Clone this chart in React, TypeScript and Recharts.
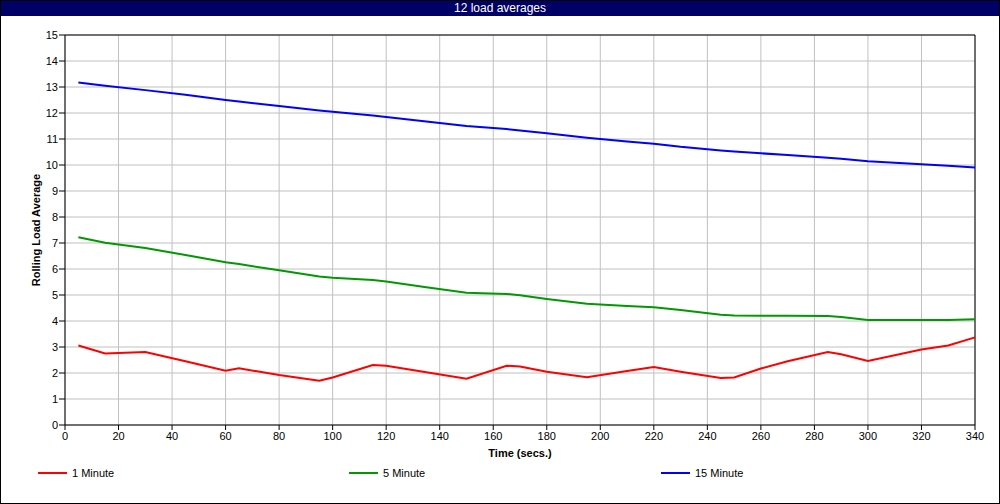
import React from "react";
import {
  LineChart,
  Line,
  XAxis,
  YAxis,
  CartesianGrid,
  Legend,
  ReferenceLine,
} from "recharts";

const times = [5, 15, 30, 45, 60, 65, 80, 95, 100, 115, 120, 135, 150, 165, 170, 180, 195, 210, 220, 230, 245, 250, 260, 270, 285, 290, 300, 320, 330, 340];
const oneMinute = [3.06, 2.75, 2.81, 2.45, 2.09, 2.18, 1.92, 1.7, 1.83, 2.31, 2.28, 2.03, 1.78, 2.28, 2.25, 2.05, 1.84, 2.08, 2.23, 2.05, 1.81, 1.83, 2.17, 2.45, 2.81, 2.72, 2.46, 2.9, 3.06, 3.37];
const fiveMinute = [7.22, 7.01, 6.81, 6.54, 6.26, 6.19, 5.95, 5.71, 5.66, 5.58, 5.52, 5.3, 5.09, 5.04, 4.99, 4.85, 4.66, 4.58, 4.53, 4.42, 4.24, 4.21, 4.2, 4.2, 4.19, 4.15, 4.04, 4.04, 4.04, 4.07];
const fifteenMinute = [13.17, 13.05, 12.88, 12.7, 12.5, 12.44, 12.27, 12.1, 12.05, 11.9, 11.85, 11.67, 11.5, 11.38, 11.33, 11.22, 11.05, 10.9, 10.82, 10.7, 10.56, 10.52, 10.45, 10.38, 10.28, 10.24, 10.14, 10.03, 9.97, 9.9];
const xTicks = [0, 20, 40, 60, 80, 100, 120, 140, 160, 180, 200, 220, 240, 260, 280, 300, 320, 340];
const yTicks = [0, 1, 2, 3, 4, 5, 6, 7, 8, 9, 10, 11, 12, 13, 14, 15];
const seriesNames = ["1 Minute", "5 Minute", "15 Minute"];

const data = times.map((t, i) => ({
  t,
  one: oneMinute[i],
  five: fiveMinute[i],
  fifteen: fifteenMinute[i],
}));

const FONT = "'Liberation Sans', Arial, sans-serif";
const legendLefts = [38, 349, 661];

const renderLegend = (props: any) => {
  const payload = [...(props.payload || [])].sort(
    (a: any, b: any) => seriesNames.indexOf(a.value) - seriesNames.indexOf(b.value)
  );
  return (
    <div style={{ position: "relative", width: 1000, height: 20 }}>
      {payload.map((p: any, i: number) => (
        <div
          key={i}
          style={{
            position: "absolute",
            left: legendLefts[i],
            top: 0,
            height: 20,
            display: "flex",
            alignItems: "center",
            fontFamily: FONT,
            fontSize: 11,
            color: "#000",
          }}
        >
          <div style={{ width: 29, height: 2, background: p.color, marginRight: 5 }} />
          <span>{p.value}</span>
        </div>
      ))}
    </div>
  );
};

export default function App() {
  return (
    <div
      style={{
        position: "absolute",
        left: 0,
        top: 0,
        width: 1000,
        height: 504,
        background: "#fff",
        boxSizing: "border-box",
        border: "1px solid #000",
        overflow: "hidden",
      }}
    >
      <div style={{ position: "absolute", left: -1, top: -1 }}>
        <LineChart
          width={1000}
          height={504}
          data={data}
          margin={{ top: 35, right: 25, bottom: 59, left: 35 }}
        >
          <CartesianGrid stroke="#c0c0c0" strokeWidth={1} />
          <XAxis
            dataKey="t"
            type="number"
            domain={[0, 340]}
            ticks={xTicks}
            interval={0}
            height={20}
            stroke="#000"
            tickSize={5}
            tickMargin={2}
            tick={{ fill: "#000", fontSize: 11, fontFamily: FONT }}
            axisLine={{ stroke: "#000", strokeWidth: 1 }}
          />
          <YAxis
            type="number"
            domain={[0, 15]}
            ticks={yTicks}
            interval={0}
            width={30}
            stroke="#000"
            tickSize={6}
            tickMargin={1}
            tick={{ fill: "#000", fontSize: 11, fontFamily: FONT }}
            axisLine={{ stroke: "#000", strokeWidth: 1 }}
          />
          <ReferenceLine y={15} stroke="#000" strokeWidth={1} />
          <ReferenceLine x={340} stroke="#000" strokeWidth={1} />
          <Legend
            layout="horizontal"
            verticalAlign="middle"
            align="center"
            content={renderLegend}
            wrapperStyle={{ top: 463, left: 0, width: 1000 }}
          />
          <Line type="linear" dataKey="one" name="1 Minute" stroke="#ff0000" strokeWidth={2} dot={false} isAnimationActive={false} />
          <Line type="linear" dataKey="five" name="5 Minute" stroke="#009900" strokeWidth={2} dot={false} isAnimationActive={false} />
          <Line type="linear" dataKey="fifteen" name="15 Minute" stroke="#0000ff" strokeWidth={2} dot={false} isAnimationActive={false} />
        </LineChart>
      </div>
      <div
        style={{
          position: "absolute",
          left: -1,
          top: -1,
          width: 1000,
          height: 16,
          background: "#000066",
          color: "#fff",
          fontFamily: FONT,
          fontSize: 12,
          lineHeight: "16px",
          textAlign: "center",
        }}
      >
        12 load averages
      </div>
      <div
        style={{
          position: "absolute",
          left: 35,
          top: 229,
          transform: "translate(-50%, -50%) rotate(-90deg)",
          whiteSpace: "nowrap",
          fontFamily: FONT,
          fontSize: 11,
          fontWeight: "bold",
        }}
      >
        Rolling Load Average
      </div>
      <div
        style={{
          position: "absolute",
          left: 519,
          top: 452,
          transform: "translate(-50%, -50%)",
          whiteSpace: "nowrap",
          fontFamily: FONT,
          fontSize: 11,
          fontWeight: "bold",
        }}
      >
        Time (secs.)
      </div>
    </div>
  );
}
